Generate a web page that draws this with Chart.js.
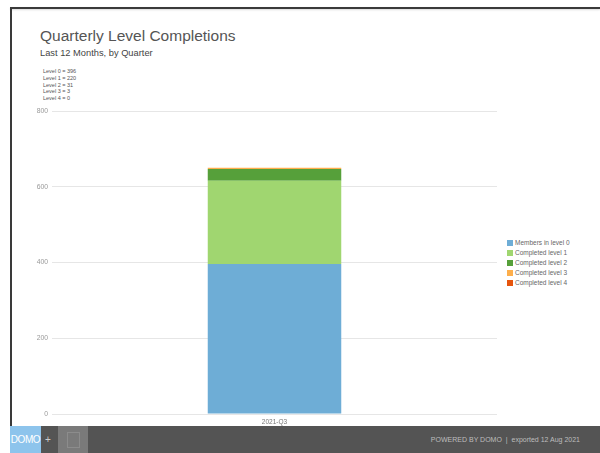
<!DOCTYPE html>
<html>
<head>
<meta charset="utf-8">
<script src="https://cdn.jsdelivr.net/npm/chart.js@4.4.1/dist/chart.umd.min.js"></script>
<style>
  html, body { margin: 0; padding: 0; background: #fff; }
  body { width: 600px; height: 453px; position: relative; overflow: hidden; font-family: "Liberation Sans", Arial, sans-serif; }
  #frameTop { position: absolute; left: 10px; top: 7px; width: 590px; height: 2px; background: #3a3a3a; box-shadow: 0 1px 2px rgba(0,0,0,0.15); }
  #frameLeft { position: absolute; left: 10px; top: 7px; width: 2px; height: 420px; background: #3a3a3a; }
  #title { position: absolute; left: 40px; top: 27px; font-size: 15.5px; color: #555; white-space: nowrap; }
  #subtitle { position: absolute; left: 40px; top: 48px; font-size: 9.3px; color: #444; white-space: nowrap; }
  #levels { position: absolute; left: 43px; top: 68px; font-size: 5.5px; line-height: 6.8px; color: #555; white-space: nowrap; }
  #chartBox { position: absolute; left: 0; top: 100px; width: 497px; height: 330px; }
  #legend { position: absolute; left: 507px; top: 238px; font-size: 6.5px; color: #666; }
  #legend div { height: 10px; line-height: 10px; white-space: nowrap; }
  #legend span { display: inline-block; width: 6px; height: 6px; margin-right: 2px; vertical-align: -0.5px; }
  #footer { position: absolute; left: 10px; top: 426px; width: 590px; height: 27px; background: #545454; }
  #logo { position: absolute; left: 0; top: 0; width: 31px; height: 27px; background: #8dc4ec; color: #fff; font-size: 10px; line-height: 27px; text-align: center; letter-spacing: -0.4px; }
  #plus { position: absolute; left: 35px; top: 0; font-size: 10px; line-height: 27px; color: #ccc; }
  #tile { position: absolute; left: 48px; top: 0; width: 30px; height: 27px; background: #7a7a7a; }
  #tile i { position: absolute; left: 9px; top: 6px; width: 11px; height: 14px; border: 1px solid #8c8c8c; }
  #stamp { position: absolute; right: 20px; top: 0; font-size: 7px; line-height: 27px; color: #bdbdbd; white-space: nowrap; }
</style>
</head>
<body>
<div id="frameTop"></div>
<div id="frameLeft"></div>
<div id="title">Quarterly Level Completions</div>
<div id="subtitle">Last 12 Months, by Quarter</div>
<div id="levels"></div>
<div id="chartBox"><canvas id="levelChart"></canvas></div>
<div id="legend"></div>
<div id="footer">
  <div id="logo">DOMO</div>
  <div id="plus">+</div>
  <div id="tile"><i></i></div>
  <div id="stamp">POWERED BY DOMO &nbsp;| &nbsp;exported 12 Aug 2021</div>
</div>

<script>
// quarters on the x axis
const quarters = ['2021-Q3'];

// members per level, one value per quarter
const level0 = [396];
const level1 = [220];
const level2 = [31];
const level3 = [3];
const level4 = [0];

const seriesNames = ['Members in level 0', 'Completed level 1', 'Completed level 2', 'Completed level 3', 'Completed level 4'];
const seriesColors = ['#6eadd6', '#a0d670', '#56a03a', '#fdae4b', '#e6550d'];
const yTicks = [0, 200, 400, 600, 800];

const allSeries = [level0, level1, level2, level3, level4];

// summary lines under the subtitle
document.getElementById('levels').innerHTML = allSeries
    .map((s, i) => 'Level ' + i + ' = ' + s[s.length - 1])
    .join('<br>');

// legend on the right
document.getElementById('legend').innerHTML = seriesNames
    .map((n, i) => '<div><span style="background:' + seriesColors[i] + '"></span>' + n + '</div>')
    .join('');

window.addEventListener('DOMContentLoaded', function() {
    const ctx = document.getElementById('levelChart').getContext('2d');
    window.currentChart = new Chart(ctx, {
        type: 'bar',
        data: {
            labels: quarters,
            datasets: allSeries.map((s, i) => ({
                label: seriesNames[i],
                data: s,
                backgroundColor: seriesColors[i],
                borderWidth: 0,
                categoryPercentage: 1,
                barPercentage: 0.3
            }))
        },
        options: {
            responsive: true,
            maintainAspectRatio: false,
            animation: false,
            layout: { padding: { top: 11, right: 0, left: 0, bottom: 0 } },
            plugins: {
                legend: { display: false },
                tooltip: { enabled: false }
            },
            scales: {
                x: {
                    stacked: true,
                    grid: { display: false, drawTicks: false },
                    border: { display: false },
                    ticks: { color: '#777', font: { family: 'Liberation Sans', size: 6.5 }, padding: 4 },
                    afterFit: function(scale) { scale.height = 16; }
                },
                y: {
                    stacked: true,
                    min: 0,
                    max: 800,
                    afterBuildTicks: function(scale) {
                        scale.ticks = yTicks.map(v => ({ value: v }));
                    },
                    grid: { color: '#e6e6e6', drawTicks: false },
                    border: { display: false },
                    ticks: { color: '#999', font: { family: 'Liberation Sans', size: 6.8 }, padding: 4 },
                    afterFit: function(scale) { scale.width = 52; }
                }
            }
        }
    });
});
</script>
</body>
</html>
